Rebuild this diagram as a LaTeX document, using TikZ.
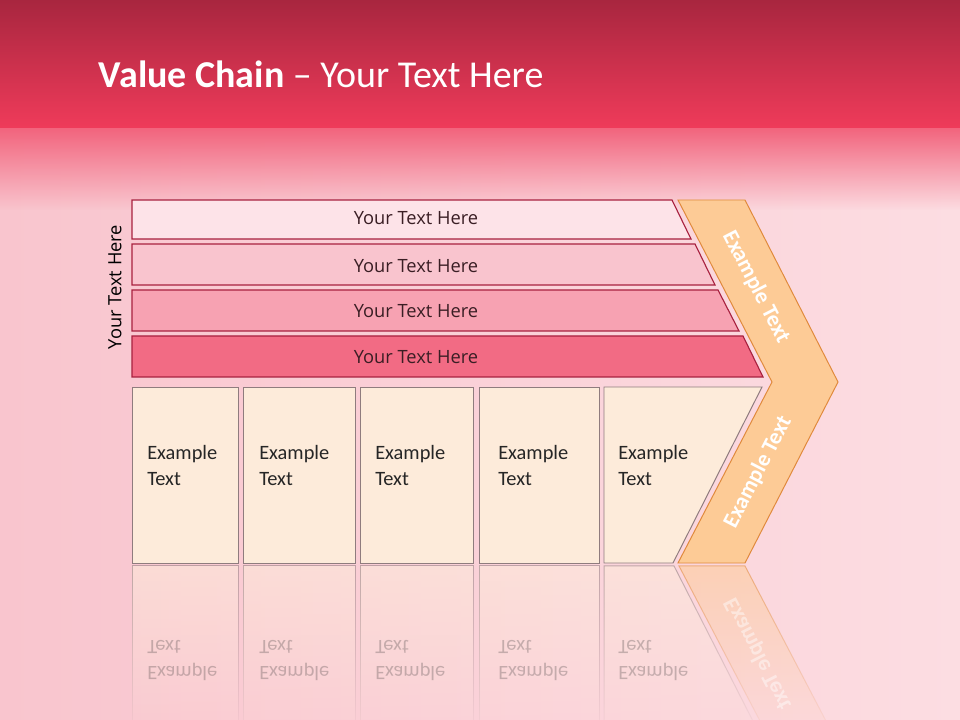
\documentclass[tikz,border=0pt]{standalone}
\usepackage{fontspec}
\setmainfont{Carlito}
\newfontfamily\barfont{Open Sans}
\usetikzlibrary{fadings}

\definecolor{topdark}{HTML}{A8263F}
\definecolor{toplight}{HTML}{EF3B5A}
\definecolor{bgleft}{HTML}{F9C5CE}
\definecolor{bgright}{HTML}{FCDDE2}
\definecolor{barline}{HTML}{A8213F}
\definecolor{barA}{HTML}{FDE3E8}
\definecolor{barB}{HTML}{F9C4CE}
\definecolor{barC}{HTML}{F7A2B2}
\definecolor{barD}{HTML}{F26B84}
\definecolor{boxfill}{HTML}{FDEBDA}
\definecolor{boxline}{HTML}{8F7C7E}
\definecolor{chevfill}{HTML}{FDCB96}
\definecolor{chevline}{HTML}{E08A3C}
\definecolor{textdark}{HTML}{3A1E24}

\begin{document}
\begin{tikzpicture}[
    x=0.025cm, y=-0.025cm,
    bar/.style={draw=barline, line width=0.8pt},
    bartext/.style={font=\barfont\fontsize{13}{15}\selectfont, text=textdark},
    box/.style={draw=boxline, fill=boxfill, line width=0.7pt},
    boxtext/.style={font=\fontsize{14.5}{18.5}\selectfont, align=left, anchor=north west, inner sep=0pt, text=black!85},
    chev/.style={draw=chevline, fill=chevfill, line width=0.7pt},
    chevtext/.style={font=\bfseries\fontsize{16}{18}\selectfont, text=white},
    mirrorbox/.style={draw=boxline, fill=boxfill, line width=0.7pt, opacity=0.55, path fading=south},
    mirrortext/.style={boxtext, yscale=-1, opacity=0.25}
]

% Background
\useasboundingbox (0,0) rectangle (960,720);
\shade[left color=bgleft, right color=bgright] (0,128) rectangle (960,720);
\shade[top color=topdark, bottom color=toplight] (0,0) rectangle (960,128);
\fill[toplight!70!bgleft, path fading=south] (0,128) rectangle (960,210);

% Title
\node[anchor=west, text=white, font=\fontsize{27}{31}\selectfont] (title) at (94,74)
    {\textbf{Value Chain} -- Your Text Here};

% Bars
\draw[bar, fill=barA] (132,200) -- (672,200) -- (691,239) -- (132,239) -- cycle;
\draw[bar, fill=barB] (132,244) -- (695,244) -- (715,285) -- (132,285) -- cycle;
\draw[bar, fill=barC] (132,290) -- (718,290) -- (739,331) -- (132,331) -- cycle;
\draw[bar, fill=barD] (132,336) -- (743,336) -- (763,377) -- (132,377) -- cycle;
\node[bartext] (bar1) at (416,218) {Your Text Here};
\node[bartext] (bar2) at (416,266) {Your Text Here};
\node[bartext] (bar3) at (416,311) {Your Text Here};
\node[bartext] (bar4) at (416,357) {Your Text Here};
\node[bartext, text=black, rotate=90] (side) at (115,287) {Your Text Here};

% Boxes
\draw[box] (132,387) rectangle (238,563);
\draw[box] (243,387) rectangle (355,563);
\draw[box] (360,387) rectangle (473,563);
\draw[box] (479,387) rectangle (599,563);
\draw[box] (604,387) -- (762,387) -- (673,563) -- (604,563) -- cycle;
\node[boxtext] (box1) at (147,445) {Example\\Text};
\node[boxtext] (box2) at (259,445) {Example\\Text};
\node[boxtext] (box3) at (375,445) {Example\\Text};
\node[boxtext] (box4) at (498,445) {Example\\Text};
\node[boxtext] (box5) at (618,445) {Example\\Text};

% Chevron
\draw[chev] (678,200) -- (745,200) -- (838,382) -- (745,563) -- (678,563) -- (772,382) -- cycle;
\node[chevtext, rotate=-62.7] (chevup) at (756,287) {Example Text};
\node[chevtext, rotate=62.7] (chevdown) at (758,472) {Example Text};

% Reflection
\draw[mirrorbox] (132,566) rectangle (238,739);
\draw[mirrorbox] (243,566) rectangle (355,739);
\draw[mirrorbox] (360,566) rectangle (473,739);
\draw[mirrorbox] (479,566) rectangle (599,739);
\draw[mirrorbox] (604,566) -- (674,566) -- (762,739) -- (604,739) -- cycle;
\draw[mirrorbox, draw=chevline, fill=chevfill] (679,566) -- (745,566) -- (838,744) -- (772,744) -- cycle;
\node[mirrortext] (mir1) at (147,681) {Example\\Text};
\node[mirrortext] (mir2) at (259,681) {Example\\Text};
\node[mirrortext] (mir3) at (375,681) {Example\\Text};
\node[mirrortext] (mir4) at (498,681) {Example\\Text};
\node[mirrortext] (mir5) at (618,681) {Example\\Text};
\node[chevtext, rotate=-62.7, yscale=-1, opacity=0.45] (mirchev) at (758,654) {Example Text};

\end{tikzpicture}
\end{document}
